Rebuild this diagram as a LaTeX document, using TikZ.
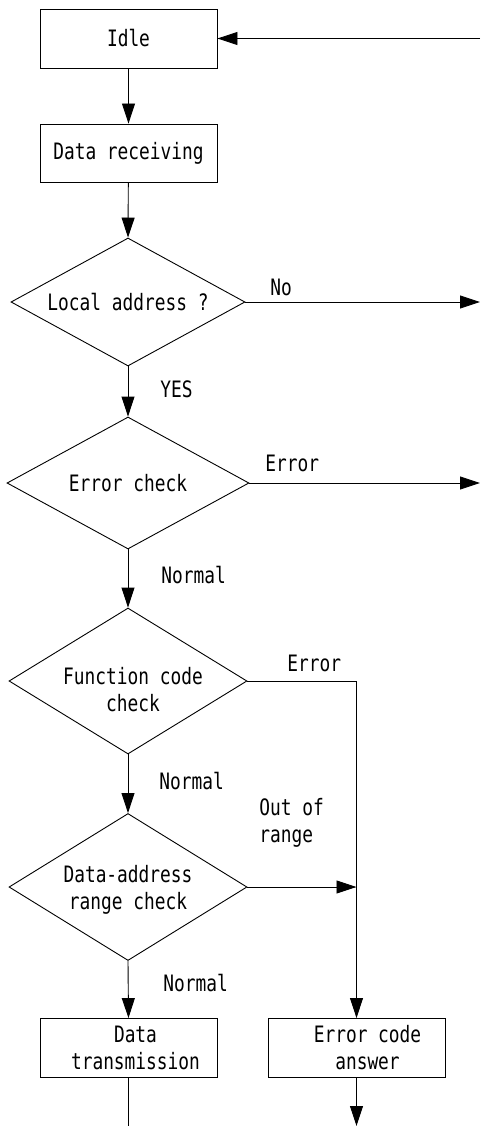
\documentclass[tikz,border=0pt]{standalone}
\usepackage{fontspec}
\newfontfamily\gfont[FakeStretch=0.79]{DejaVu Sans Mono}
\usetikzlibrary{arrows.meta,shapes.geometric}
\begin{document}
\begin{tikzpicture}[x=1pt,y=-1pt,
  line width=0.9pt,
  every node/.style={font=\gfont\fontsize{22.6}{27}\selectfont},
  procbox/.style={draw,rectangle,minimum width=177pt,minimum height=59pt,inner sep=0pt,align=center},
  decis/.style={draw,diamond,aspect=1.8,inner sep=0pt,align=center},
  lbl/.style={anchor=base west,inner sep=0pt,align=left},
  arr/.style={-{Triangle[length=20pt,width=13pt]}}
]
\useasboundingbox (0,0) rectangle (480,1126);
% boxes
\node[procbox] (idle) at (128.5,38.5) {Idle};
\node[procbox,minimum height=58pt] (recv) at (128.5,153) {Data receiving};
\node[decis,minimum width=234pt,minimum height=128pt] (local) at (128,302) {Local address ?};
\node[decis,minimum width=242pt,minimum height=132pt] (errchk) at (128,483) {Error check};
\node[decis,minimum width=238pt,minimum height=146pt] (func) at (128,681) {};
\node (functxt) at (133,690) [align=center,inner sep=0pt] {Function code\\check};
\node[decis,minimum width=238pt,minimum height=147pt] (range) at (128,887) {};
\node (rangetxt) at (128,890) [align=center,inner sep=0pt] {Data-address\\range check};
\node[procbox] (trans) at (128.5,1048) {};
\node (transtxt) at (135.5,1048) [align=center,inner sep=0pt] {Data\\transmission};
\node[procbox] (ecode) at (356.5,1048) {};
\node (ecodetxt) at (367.5,1048) [align=center,inner sep=0pt] {Error code\\answer};
% free ends
\coordinate (inR) at (480,38.5);
\coordinate (noR) at (480,302);
\coordinate (errR) at (480,483);
\coordinate (fcorner) at (356.5,681);
\coordinate (rjoin) at (356.5,887);
\coordinate (tEnd) at (128.5,1126);
\coordinate (eEnd) at (356.5,1126);
% connectors
\draw[arr] (inR) -- (idle.east);
\draw[arr] (idle) -- (recv);
\draw[arr] (recv) -- (local.north);
\draw[arr] (local.east) -- (noR);
\draw[arr] (local.south) -- (errchk.north);
\draw[arr] (errchk.east) -- (errR);
\draw[arr] (errchk.south) -- (func.north);
\draw[arr] (func.south) -- (range.north);
\draw[arr] (func.east) -- (fcorner) -- (ecode.north);
\draw[arr] (range.east) -- (rjoin);
\draw[arr] (range.south) -- (trans.north);
\draw (trans.south) -- (tEnd);
\draw[arr] (ecode.south) -- (eEnd);
% labels
\node[lbl] (lno) at (270,295) {No};
\node[lbl] (lyes) at (160,397) {YES};
\node[lbl] (lerr1) at (265,471) {Error};
\node[lbl] (lnorm1) at (161,583) {Normal};
\node[lbl] (lerr2) at (287,671) {Error};
\node[lbl] (lnorm2) at (159,789) {Normal};
\node[lbl] (lout) at (259,842) {Out of\\range};
\node[lbl] (lnorm3) at (163,991) {Normal};
\end{tikzpicture}
\end{document}
